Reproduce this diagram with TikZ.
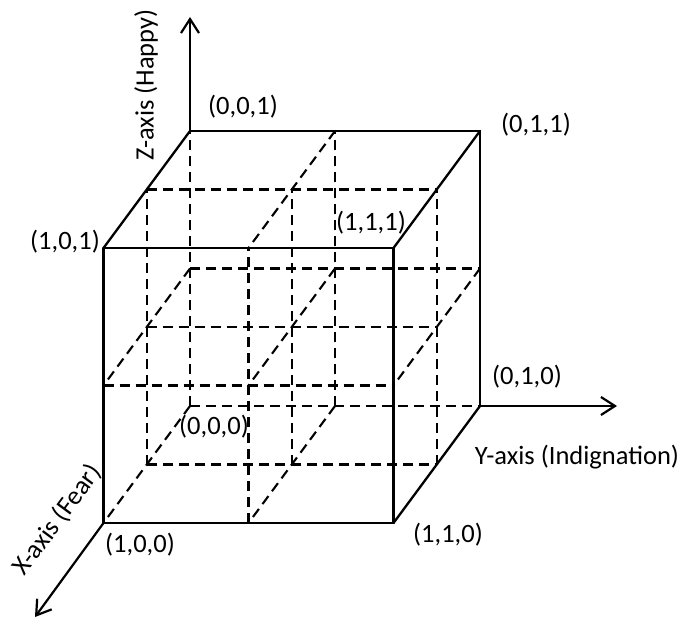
\documentclass[tikz,border=0pt]{standalone}
\usepackage{fontspec}
\setmainfont{Carlito}
\usetikzlibrary{arrows.meta}
\begin{document}
\begin{tikzpicture}[x=1pt,y=1pt,
  solidline/.style={line width=2.3pt, line cap=round},
  dashline/.style={line width=2.1pt, dash pattern=on 10pt off 6pt},
  axisline/.style={line width=2.2pt, -{Straight Barb[length=14pt,width=18pt,line width=2.2pt]}},
  lbl/.style={font=\fontsize{26.5}{30}\selectfont, inner sep=0pt}]
\useasboundingbox (0,0) rectangle (685,-626);
\begin{scope}[shift={(190,-406)}, x={(-86.5pt,-117pt)}, y={(290pt,0pt)}, z={(0pt,275pt)}]
  \coordinate (P000) at (0,0,0);
  \coordinate (P001) at (0,0,1);
  \coordinate (P010) at (0,1,0);
  \coordinate (P100) at (1,0,0);
  \foreach \p/\q in {0/0,0/0.5,0.5/0,0.5/0.5,0.5/1,1/0.5} {
    \draw[dashline] (0,\p,\q) -- (1,\p,\q);
    \draw[dashline] (\p,0,\q) -- (\p,1,\q);
    \draw[dashline] (\p,\q,0) -- (\p,\q,1);
  }
  \foreach \p/\q in {0/1,1/0,1/1} {
    \draw[solidline] (0,\p,\q) -- (1,\p,\q);
    \draw[solidline] (\p,0,\q) -- (\p,1,\q);
    \draw[solidline] (\p,\q,0) -- (\p,\q,1);
  }
\end{scope}
\coordinate (ztip) at (190,-17);
\coordinate (ytip) at (617,-406);
\coordinate (xtip) at (35,-617);
\draw[axisline] (P001) -- (ztip);
\draw[axisline] (P010) -- (ytip);
\draw[axisline] (P100) -- (xtip);
\node[lbl] (l001) at (243,-107) {(0,0,1)};
\node[lbl] (l011) at (536,-125) {(0,1,1)};
\node[lbl] (l101) at (65,-242) {(1,0,1)};
\node[lbl] (l111) at (371,-223) {(1,1,1)};
\node[lbl] (l010) at (527,-377) {(0,1,0)};
\node[lbl] (l000) at (214,-427) {(0,0,0)};
\node[lbl] (l110) at (448,-535) {(1,1,0)};
\node[lbl] (l100) at (140,-545) {(1,0,0)};
\node[lbl] (ylab) at (577,-457) {Y-axis (Indignation)};
\node[lbl, rotate=90] (zlab) at (146,-85) {Z-axis (Happy)};
\node[lbl, rotate=53.5] (xlab) at (57,-520) {X-axis (Fear)};
\end{tikzpicture}
\end{document}
